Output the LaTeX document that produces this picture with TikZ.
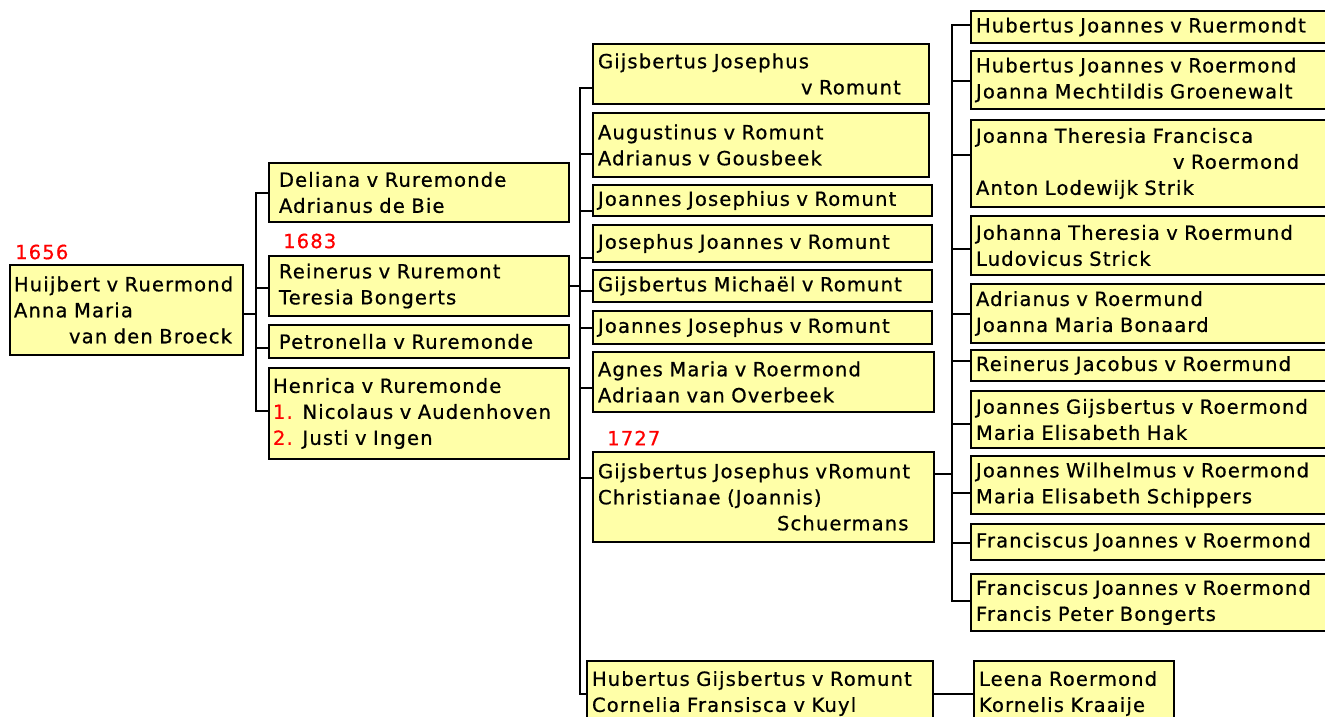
\documentclass[tikz,border=0pt]{standalone}
\usepackage{fontspec}
\setmainfont{DejaVu Sans}[LetterSpace=6,FakeBold=0.7]
\definecolor{boxfill}{RGB}{255,255,168}
\begin{document}
\begin{tikzpicture}[x=1pt,y=-1pt,
 box/.style={draw=black, fill=boxfill, line width=2pt, anchor=north west, align=left,
   inner xsep=5pt, inner ysep=0pt, font=\fontsize{19.5}{26}\selectfont},
 yr/.style={text=red, anchor=west, inner sep=0pt, font=\fontsize{19.5}{26}\selectfont},
 link/.style={line width=2pt, draw=black}]
\useasboundingbox (0,0) rectangle (1325,717);
\clip (0,0) rectangle (1325,717);
\fill[white] (0,0) rectangle (1325,717);

% root
\node[box, inner xsep=4pt, text width=225pt, minimum height=90pt] (root) at (9,264)
 {Huijbert v Ruermond\\Anna Maria\\\hspace*{55pt}van den Broeck};
\node[yr] (y1656) at (15,252) {1656};

% level 1
\node[box, inner xsep=10pt, text width=280pt, minimum height=59pt] (d1) at (268,162)
 {Deliana v Ruremonde\\Adrianus de Bie};
\node[box, inner xsep=10pt, text width=280pt, minimum height=60pt] (d2) at (268,255)
 {Reinerus v Ruremont\\Teresia Bongerts};
\node[yr] (y1683) at (283,241) {1683};
\node[box, inner xsep=10pt, text width=280pt, minimum height=33pt] (d3) at (268,324)
 {Petronella v Ruremonde};
\node[box, inner xsep=4pt, text width=292pt, minimum height=91pt] (d4) at (268,367)
 {Henrica v Ruremonde\\{\color{red}1.} Nicolaus v Audenhoven\\{\color{red}2.} Justi v Ingen};

% level 2
\node[box, text width=326pt, minimum height=60pt] (g1) at (592,43)
 {Gijsbertus Josephus\\\hspace*{203pt}v Romunt};
\node[box, text width=326pt, minimum height=64pt] (g2) at (592,112)
 {Augustinus v Romunt\\Adrianus v Gousbeek};
\node[box, text width=329pt, minimum height=31pt] (g3) at (592,184)
 {Joannes Josephius v Romunt};
\node[box, text width=329pt, minimum height=37pt] (g4) at (592,224)
 {Josephus Joannes v Romunt};
\node[box, text width=329pt, minimum height=32pt] (g5) at (592,269)
 {Gijsbertus Michaël v Romunt};
\node[box, text width=329pt, minimum height=33pt] (g6) at (592,310)
 {Joannes Josephus v Romunt};
\node[box, text width=331pt, minimum height=60pt] (g7) at (592,351)
 {Agnes Maria v Roermond\\Adriaan van Overbeek};
\node[yr] (y1727) at (607,438) {1727};
\node[box, text width=331pt, minimum height=90pt] (g8) at (592,451)
 {Gijsbertus Josephus vRomunt\\Christianae (Joannis)\\\hspace*{179pt}Schuermans};
\node[box, text width=336pt, minimum height=65pt] (g9) at (586,660)
 {Hubertus Gijsbertus v Romunt\\Cornelia Fransisca v Kuyl};

% level 3
\node[box, text width=360pt, minimum height=32pt] (h1) at (970,10)
 {Hubertus Joannes v Ruermondt};
\node[box, text width=360pt, minimum height=58pt] (h2) at (970,50)
 {Hubertus Joannes v Roermond\\Joanna Mechtildis Groenewalt};
\node[box, text width=360pt, minimum height=87pt] (h3) at (970,119)
 {Joanna Theresia Francisca\\\hspace*{197pt}v Roermond\\Anton Lodewijk Strik};
\node[box, text width=360pt, minimum height=59pt] (h4) at (970,215)
 {Johanna Theresia v Roermund\\Ludovicus Strick};
\node[box, text width=360pt, minimum height=59pt] (h5) at (970,283)
 {Adrianus v Roermund\\Joanna Maria Bonaard};
\node[box, text width=360pt, minimum height=31pt] (h6) at (970,349)
 {Reinerus Jacobus v Roermund};
\node[box, text width=360pt, minimum height=57pt] (h7) at (970,390)
 {Joannes Gijsbertus v Roermond\\Maria Elisabeth Hak};
\node[box, text width=360pt, minimum height=58pt] (h8) at (970,455)
 {Joannes Wilhelmus v Roermond\\Maria Elisabeth Schippers};
\node[box, text width=360pt, minimum height=36pt] (h9) at (970,523)
 {Franciscus Joannes v Roermond};
\node[box, text width=360pt, minimum height=57pt] (h10) at (970,573)
 {Franciscus Joannes v Roermond\\Francis Peter Bongerts};
\node[box, text width=190pt, minimum height=65pt] (leena) at (973,660)
 {Leena Roermond\\Kornelis Kraaije};

% bus positions
\coordinate (b1) at (256,0);
\coordinate (b2) at (580,0);
\coordinate (b3) at (952,0);

% level 1 connectors
\coordinate (ro) at ([yshift=-4pt]root.east);
\coordinate (c1) at (d1.west);
\coordinate (c2) at ([yshift=-2pt]d2.west);
\coordinate (c3) at ([yshift=-6pt]d3.west);
\coordinate (c4) at ([yshift=3pt]d4.west);
\draw[link] (ro) -- (ro -| b1);
\draw[link] (c1) -- (c1 -| b1) -- (c4 -| b1) -- (c4);
\draw[link] (c2 -| b1) -- (c2);
\draw[link] (c3 -| b1) -- (c3);

% level 2 connectors
\coordinate (r2) at (d2.east);
\coordinate (e1) at ([yshift=-14pt]g1.west);
\coordinate (e2) at ([yshift=-9pt]g2.west);
\coordinate (e3) at ([yshift=-10pt]g3.west);
\coordinate (e4) at ([yshift=-14pt]g4.west);
\coordinate (e5) at ([yshift=-5pt]g5.west);
\coordinate (e6) at (g6.west);
\coordinate (e7) at ([yshift=-6pt]g7.west);
\coordinate (e8) at ([yshift=19pt]g8.west);
\coordinate (e9) at (g9.west);
\draw[link] (r2) -- (r2 -| b2);
\draw[link] (e1) -- (e1 -| b2) -- (e9 -| b2) -- (e9);
\foreach \e in {e2,e3,e4,e5,e6,e7,e8} \draw[link] (\e -| b2) -- (\e);

% level 3 connectors
\coordinate (r3) at ([yshift=23pt]g8.east);
\coordinate (f1) at ([yshift=2pt]h1.west);
\coordinate (f2) at ([yshift=-1pt]h2.west);
\coordinate (f3) at ([yshift=8.5pt]h3.west);
\coordinate (f4) at ([yshift=-3.5pt]h4.west);
\coordinate (f5) at (h5.west);
\coordinate (f6) at ([yshift=4.5pt]h6.west);
\coordinate (f7) at ([yshift=-4.5pt]h7.west);
\coordinate (f8) at ([yshift=-8pt]h8.west);
\coordinate (f9) at ([yshift=-1pt]h9.west);
\coordinate (f10) at ([yshift=1.5pt]h10.west);
\draw[link] (r3) -- (r3 -| b3);
\draw[link] (f1) -- (f1 -| b3) -- (f10 -| b3) -- (f10);
\foreach \f in {f2,f3,f4,f5,f6,f7,f8,f9} \draw[link] (\f -| b3) -- (\f);

% Hubertus Gijsbertus -> Leena
\draw[link] (g9.east) -- (leena.west);
\end{tikzpicture}
\end{document}
